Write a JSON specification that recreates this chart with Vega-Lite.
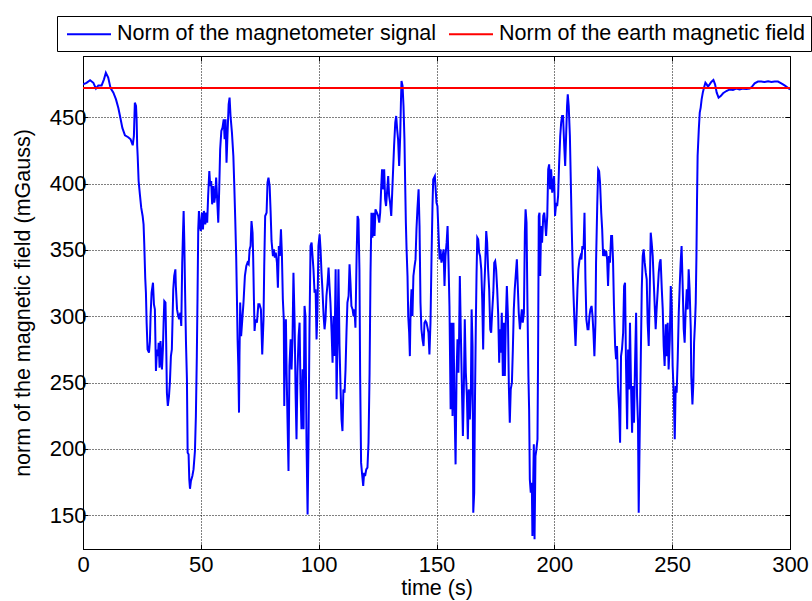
{
  "$schema": "https://vega.github.io/schema/vega-lite/v6.json",
  "width": 707,
  "height": 493,
  "autosize": "none",
  "padding": {"left": 83, "top": 56, "right": 22, "bottom": 52},
  "background": "white",
  "datasets": {
    "mag": [
{"t":0,"v":474.8},{"t":1.5,"v":476},{"t":3.0,"v":478},{"t":4.4,"v":476},{"t":5.5,"v":471.6},{"t":6.5,"v":474},{"t":7.9,"v":474},{"t":8.9,"v":478.6},{"t":9.7,"v":483.6},{"t":10.7,"v":480},{"t":11.7,"v":472},{"t":12.9,"v":468.6},{"t":14.0,"v":463.5},{"t":15.0,"v":457},{"t":15.7,"v":451},{"t":16.7,"v":442},{"t":17.8,"v":436.4},{"t":19.2,"v":435},{"t":20.2,"v":433.4},{"t":21.1,"v":428.9},{"t":21.6,"v":436},{"t":22.0,"v":461},{"t":22.5,"v":458.5},{"t":22.75,"v":448.5},{"t":23.0,"v":428.4},{"t":23.2,"v":420.8},{"t":23.6,"v":402},{"t":24.2,"v":390.7},{"t":24.7,"v":381.9},{"t":25.3,"v":375.6},{"t":25.7,"v":369.3},{"t":26.0,"v":354.2},{"t":26.4,"v":329},{"t":26.7,"v":317.8},{"t":27.0,"v":295.2},{"t":27.4,"v":275},{"t":28.0,"v":272.6},{"t":28.4,"v":281.4},{"t":28.7,"v":301.5},{"t":29.1,"v":317.8},{"t":29.7,"v":325.3},{"t":30.1,"v":309},{"t":30.5,"v":305.2},{"t":30.95,"v":258.8},{"t":31.4,"v":275},{"t":31.8,"v":270},{"t":32.1,"v":280.1},{"t":32.5,"v":261.3},{"t":32.9,"v":281.4},{"t":33.5,"v":260},{"t":33.9,"v":275},{"t":34.2,"v":295.2},{"t":34.5,"v":311.5},{"t":35.0,"v":310.3},{"t":35.3,"v":280},{"t":35.6,"v":242.4},{"t":36.0,"v":232.4},{"t":36.5,"v":240},{"t":36.9,"v":251.2},{"t":37.3,"v":270},{"t":37.7,"v":275},{"t":38.0,"v":297.7},{"t":38.3,"v":320.3},{"t":38.7,"v":330.4},{"t":39.2,"v":335.4},{"t":39.4,"v":322.8},{"t":39.9,"v":305.2},{"t":40.4,"v":300.2},{"t":40.8,"v":297.7},{"t":41.3,"v":302.7},{"t":41.7,"v":292.7},{"t":42.1,"v":340.4},{"t":42.4,"v":360.5},{"t":42.7,"v":379.4},{"t":43.0,"v":355.5},{"t":43.3,"v":320.3},{"t":43.7,"v":280.1},{"t":44.1,"v":252.5},{"t":44.4,"v":197.2},{"t":44.8,"v":196},{"t":45.1,"v":177.1},{"t":45.4,"v":170},{"t":45.8,"v":175.9},{"t":46.4,"v":179.6},{"t":46.9,"v":184.6},{"t":47.5,"v":198.5},{"t":47.9,"v":224.8},{"t":48.3,"v":270},{"t":48.6,"v":315.3},{"t":48.9,"v":365.5},{"t":49.2,"v":379.4},{"t":49.6,"v":368},{"t":50.0,"v":364.3},{"t":50.5,"v":378.1},{"t":50.9,"v":365.5},{"t":51.3,"v":379.4},{"t":51.9,"v":369.3},{"t":52.3,"v":378.1},{"t":52.7,"v":370.6},{"t":53.1,"v":390.7},{"t":53.6,"v":409.5},{"t":54.0,"v":398.2},{"t":54.4,"v":402},{"t":54.8,"v":384.4},{"t":55.3,"v":398.2},{"t":55.7,"v":385.6},{"t":56.1,"v":390.7},{"t":56.5,"v":404.5},{"t":57.0,"v":385.6},{"t":57.4,"v":370.6},{"t":57.8,"v":395.7},{"t":58.2,"v":425.9},{"t":58.7,"v":439.7},{"t":59.2,"v":442.2},{"t":59.7,"v":448.5},{"t":60.1,"v":433.4},{"t":60.5,"v":448.5},{"t":60.9,"v":415.8},{"t":61.3,"v":435.9},{"t":61.8,"v":459.8},{"t":62.2,"v":464.8},{"t":62.6,"v":451},{"t":63.2,"v":438.4},{"t":63.8,"v":420.8},{"t":64.2,"v":398.2},{"t":64.6,"v":373.1},{"t":65.0,"v":345.4},{"t":65.3,"v":315.3},{"t":65.6,"v":282.6},{"t":65.9,"v":262.5},{"t":66.2,"v":227.4},{"t":66.4,"v":270},{"t":66.7,"v":310.3},{"t":67.1,"v":285.1},{"t":67.6,"v":297.7},{"t":68.1,"v":310.3},{"t":68.7,"v":330.4},{"t":69.3,"v":337.9},{"t":69.8,"v":340.4},{"t":70.3,"v":339.2},{"t":70.7,"v":350.5},{"t":71.1,"v":353},{"t":71.5,"v":371.8},{"t":71.95,"v":363},{"t":72.2,"v":345.4},{"t":72.5,"v":315.3},{"t":72.8,"v":288.9},{"t":73.2,"v":297.7},{"t":73.8,"v":295.2},{"t":74.4,"v":309},{"t":74.9,"v":309},{"t":75.5,"v":305.2},{"t":76.05,"v":271.3},
{"t":76.6,"v":297.7},{"t":76.9,"v":337.9},{"t":77.3,"v":375.6},{"t":77.9,"v":378.1},{"t":78.3,"v":400.7},{"t":78.7,"v":404.5},{"t":79.2,"v":398.2},{"t":79.6,"v":379.4},{"t":80.0,"v":356.8},{"t":80.6,"v":345.4},{"t":81.0,"v":350.5},{"t":81.4,"v":344.2},{"t":81.8,"v":348},{"t":82.3,"v":340.4},{"t":82.7,"v":321.6},{"t":83.1,"v":353},{"t":83.5,"v":345.4},{"t":84.0,"v":365.5},{"t":84.4,"v":346.7},{"t":84.8,"v":312.8},{"t":85.2,"v":297.7},{"t":85.4,"v":232.4},{"t":85.7,"v":277.6},{"t":86.1,"v":297.7},{"t":86.4,"v":257.5},{"t":86.8,"v":219.8},{"t":87.2,"v":183.4},{"t":87.6,"v":262.5},{"t":88.1,"v":282.6},{"t":88.5,"v":260},{"t":88.9,"v":282.6},{"t":89.3,"v":332.9},{"t":89.8,"v":295.2},{"t":90.2,"v":242.4},{"t":90.6,"v":207.3},{"t":91.0,"v":257.5},{"t":91.5,"v":285.1},{"t":91.9,"v":295.2},{"t":92.3,"v":244.9},{"t":92.7,"v":214.8},{"t":93.2,"v":260},{"t":93.6,"v":214.8},{"t":94.0,"v":307.8},{"t":94.4,"v":300.2},{"t":94.85,"v":204.7},{"t":95.3,"v":150.7},{"t":95.7,"v":207.3},{"t":96.1,"v":290.2},{"t":96.55,"v":353},{"t":97.0,"v":355.5},{"t":97.4,"v":345.4},{"t":97.8,"v":335.4},{"t":98.25,"v":317.8},{"t":98.7,"v":320.3},{"t":99.1,"v":282.6},{"t":99.5,"v":305.2},{"t":99.9,"v":353},{"t":100.4,"v":361.8},{"t":100.8,"v":350.5},{"t":101.2,"v":332.9},{"t":101.6,"v":320.3},{"t":102.1,"v":300.2},{"t":102.5,"v":290.2},{"t":102.9,"v":297.7},{"t":103.3,"v":315.3},{"t":103.8,"v":325.3},{"t":104.2,"v":336.7},{"t":104.6,"v":322.8},{"t":105.0,"v":310.3},{"t":105.5,"v":287.6},{"t":105.9,"v":265},{"t":106.3,"v":300.2},{"t":106.7,"v":270},{"t":107.2,"v":335.4},{"t":107.6,"v":237.4},{"t":108.0,"v":282.6},{"t":108.4,"v":335.4},{"t":108.85,"v":277.6},{"t":109.3,"v":244.9},{"t":109.7,"v":222.3},{"t":110.1,"v":213.5},{"t":110.5,"v":244.9},{"t":111.0,"v":242.4},{"t":111.4,"v":260},{"t":111.8,"v":287.6},{"t":112.2,"v":310.3},{"t":112.7,"v":315.3},{"t":113.1,"v":339.2},{"t":113.5,"v":325.3},{"t":113.9,"v":307.8},{"t":114.4,"v":305.2},{"t":114.8,"v":300.2},{"t":115.2,"v":305.2},{"t":115.6,"v":291.4},{"t":116.1,"v":345.4},{"t":116.5,"v":375.6},{"t":116.9,"v":373.1},{"t":117.3,"v":335.4},{"t":117.6,"v":255},{"t":118.0,"v":189.7},{"t":118.5,"v":179.6},{"t":118.9,"v":172.1},{"t":119.3,"v":182.1},{"t":119.7,"v":179.6},{"t":120.2,"v":184.6},{"t":120.7,"v":185.9},{"t":121.15,"v":204.7},{"t":121.6,"v":257.5},{"t":122.0,"v":332.9},{"t":122.4,"v":378.1},{"t":122.8,"v":359.3},{"t":123.3,"v":378.1},{"t":123.7,"v":360.5},{"t":124.1,"v":380.6},{"t":124.7,"v":378.1},{"t":125.25,"v":375.6},{"t":125.7,"v":370.6},{"t":126.1,"v":378.1},{"t":126.5,"v":395.7},{"t":126.9,"v":410.8},{"t":127.4,"v":395.7},{"t":127.8,"v":410.8},{"t":128.2,"v":388.2},{"t":128.6,"v":383.1},{"t":129.1,"v":395.7},{"t":129.5,"v":405.7},{"t":129.9,"v":390.7},{"t":130.3,"v":385.6},{"t":130.8,"v":375.6},{"t":131.2,"v":393.2},{"t":131.6,"v":410.8},{"t":132.0,"v":428.4},{"t":132.5,"v":446},{"t":132.9,"v":451},{"t":133.3,"v":440.9},{"t":133.7,"v":433.4},{"t":134.15,"v":413.3},{"t":134.6,"v":435.9},{"t":134.9,"v":461},{"t":135.15,"v":477.4},{"t":135.6,"v":473.6},{"t":136.0,"v":458.5},{"t":136.4,"v":433.4},{"t":136.7,"v":400.7},{"t":137.0,"v":370.6},{"t":137.3,"v":350.5},{"t":137.7,"v":330.4},{"t":138.0,"v":300.2},{"t":138.4,"v":287.6},{"t":138.7,"v":270},{"t":139.0,"v":305.2},{"t":139.4,"v":320.3},{"t":139.8,"v":300.2},{"t":140.2,"v":330.4},{"t":140.7,"v":337.9},{"t":141.1,"v":342.9},{"t":141.5,"v":365.5},{"t":141.9,"v":380.6},{"t":142.4,"v":395.7},{"t":142.8,"v":368},{"t":143.2,"v":310.3},{"t":143.6,"v":290.2},{"t":144.05,"v":282.6},{"t":144.5,"v":277.6},{"t":144.9,"v":295.2},{"t":145.3,"v":296.5},{"t":145.75,"v":295.2},{"t":146.2,"v":291.4},{"t":146.6,"v":287.6},{"t":147.0,"v":271.3},{"t":147.45,"v":295.2},{"t":147.9,"v":345.4},{"t":148.3,"v":383.1},
{"t":148.6,"v":403.2},{"t":149.3,"v":405.7},{"t":150.0,"v":385.6},{"t":150.4,"v":383.1},{"t":150.9,"v":360.5},{"t":151.3,"v":342.9},{"t":151.7,"v":350.5},{"t":152.1,"v":340.4},{"t":152.6,"v":345.4},{"t":153.0,"v":350.5},{"t":153.4,"v":322.8},{"t":153.8,"v":345.4},{"t":154.3,"v":355.5},{"t":154.7,"v":368},{"t":155.1,"v":340.4},{"t":155.5,"v":307.8},{"t":156.0,"v":229.9},{"t":156.4,"v":295.2},{"t":156.8,"v":224.8},{"t":157.2,"v":295.2},{"t":157.65,"v":232.4},{"t":158.1,"v":188.4},{"t":158.5,"v":255},{"t":158.9,"v":282.6},{"t":159.3,"v":257.5},{"t":159.6,"v":285.1},{"t":159.9,"v":330.4},{"t":160.3,"v":290.2},{"t":160.8,"v":244.9},{"t":161.2,"v":209.8},{"t":161.6,"v":244.9},{"t":162.0,"v":297.7},{"t":162.45,"v":257.5},{"t":162.9,"v":240},{"t":163.3,"v":207.3},{"t":163.7,"v":244.9},{"t":164.15,"v":222.3},{"t":164.6,"v":244.9},{"t":164.9,"v":305.2},{"t":165.3,"v":277.6},{"t":165.6,"v":152},{"t":166.0,"v":167.1},{"t":166.3,"v":232.4},{"t":166.7,"v":295.2},{"t":167.0,"v":332.9},{"t":167.3,"v":359.3},{"t":167.7,"v":358},{"t":168.1,"v":348},{"t":168.5,"v":345.4},{"t":169.0,"v":335.4},{"t":169.4,"v":312.8},{"t":169.8,"v":275},{"t":170.2,"v":317.8},{"t":170.7,"v":340.4},{"t":171.1,"v":364.3},{"t":171.5,"v":355.5},{"t":171.9,"v":335.4},{"t":172.35,"v":320.3},{"t":172.8,"v":290.2},{"t":173.2,"v":287.6},{"t":173.6,"v":302.7},{"t":174.1,"v":317.8},{"t":174.5,"v":340.4},{"t":174.9,"v":341.7},{"t":175.3,"v":335.4},{"t":175.75,"v":320.3},{"t":176.2,"v":300.2},{"t":176.6,"v":265},{"t":176.9,"v":290.2},{"t":177.3,"v":272.6},{"t":177.7,"v":302.7},{"t":178.15,"v":255},{"t":178.6,"v":295.2},{"t":179.0,"v":255},{"t":179.4,"v":295.2},{"t":179.85,"v":322.8},{"t":180.3,"v":300.2},{"t":180.7,"v":247.5},{"t":181.1,"v":219.8},{"t":181.5,"v":244.9},{"t":182.0,"v":250},{"t":182.4,"v":275},{"t":182.8,"v":305.2},{"t":183.2,"v":320.3},{"t":183.7,"v":332.9},{"t":184.1,"v":342.9},{"t":184.5,"v":322.8},{"t":184.9,"v":302.7},{"t":185.4,"v":290.2},{"t":185.8,"v":297.7},{"t":186.2,"v":305.2},{"t":186.6,"v":295.2},{"t":187.1,"v":302.7},{"t":187.5,"v":363},{"t":187.8,"v":380.6},{"t":188.2,"v":370.6},{"t":188.6,"v":307.8},{"t":189.0,"v":255},{"t":189.3,"v":229.9},{"t":189.6,"v":177.1},{"t":190.0,"v":167.1},{"t":190.45,"v":174.6},{"t":190.7,"v":134.4},{"t":191.0,"v":169.6},{"t":191.3,"v":203.5},{"t":191.6,"v":131.9},{"t":192.0,"v":194.7},{"t":192.4,"v":199.7},{"t":192.85,"v":207.3},{"t":193.1,"v":270},{"t":193.4,"v":375.6},{"t":193.7,"v":378.1},{"t":194.0,"v":330.4},{"t":194.4,"v":368},{"t":194.8,"v":355.5},{"t":195.3,"v":375.6},{"t":195.7,"v":378.1},{"t":196.1,"v":370.6},{"t":196.5,"v":360.5},{"t":197.0,"v":375.6},{"t":197.4,"v":410.8},{"t":197.8,"v":414.5},{"t":198.2,"v":395.7},{"t":198.65,"v":410.8},{"t":199.1,"v":393.2},{"t":199.5,"v":400.7},{"t":199.9,"v":405.7},{"t":200.3,"v":375.6},{"t":200.8,"v":385.6},{"t":201.2,"v":383.1},{"t":201.6,"v":390.7},{"t":202.0,"v":413.3},{"t":202.5,"v":435.9},{"t":202.9,"v":446},{"t":203.3,"v":451},{"t":203.7,"v":451},{"t":204.2,"v":428.4},{"t":204.6,"v":413.3},{"t":205.0,"v":435.9},{"t":205.4,"v":458.5},{"t":205.7,"v":467.3},{"t":206.1,"v":458.5},{"t":206.6,"v":435.9},{"t":207.0,"v":400.7},{"t":207.4,"v":365.5},{"t":207.8,"v":335.4},{"t":208.1,"v":317.8},{"t":208.5,"v":297.7},{"t":209.0,"v":277.6},{"t":209.4,"v":297.7},{"t":209.8,"v":320.3},{"t":210.2,"v":335.4},{"t":210.7,"v":342.9},{"t":211.1,"v":345.4},{"t":211.5,"v":342.9},{"t":211.9,"v":353},{"t":212.4,"v":350.5},{"t":212.8,"v":378.1},{"t":213.2,"v":327.9},{"t":213.6,"v":297.7},{"t":214.1,"v":290.2},{"t":214.5,"v":290.2},{"t":214.9,"v":300.2},{"t":215.3,"v":305.2},{"t":215.8,"v":307.8},{"t":216.2,"v":300.2},{"t":216.6,"v":287.6},{"t":217.0,"v":270},{"t":217.45,"v":295.2},{"t":217.7,"v":340.4},{"t":218.2,"v":383.1},{"t":218.6,"v":410.8},{"t":219.0,"v":409.5},{"t":219.4,"v":400.7},{"t":219.9,"v":378.1},{"t":220.3,"v":365.5},{"t":220.7,"v":345.4},{"t":221.1,"v":350.5},{"t":221.55,"v":345.4},{"t":222.0,"v":349.2},{"t":222.4,"v":342.9},
{"t":222.8,"v":322.8},{"t":223.2,"v":345.4},{"t":223.6,"v":340.4},{"t":224.1,"v":360.5},{"t":224.5,"v":360.5},{"t":224.9,"v":342.9},{"t":225.3,"v":307.8},{"t":225.8,"v":277.6},{"t":226.2,"v":267.6},{"t":226.6,"v":277.6},{"t":227.0,"v":247.5},{"t":227.5,"v":229.9},{"t":227.9,"v":204.7},{"t":228.3,"v":270},{"t":228.7,"v":275},{"t":229.2,"v":287.6},{"t":229.6,"v":322.8},{"t":230.0,"v":325.3},{"t":230.4,"v":265},{"t":230.9,"v":214.8},{"t":231.3,"v":275},{"t":231.7,"v":244.9},{"t":232.1,"v":295.2},{"t":232.55,"v":247.5},{"t":233.0,"v":212.3},{"t":233.4,"v":247.5},{"t":233.8,"v":219.8},{"t":234.25,"v":265},{"t":234.7,"v":302.7},{"t":235.1,"v":240},{"t":235.5,"v":219.8},{"t":235.8,"v":152},{"t":236.2,"v":207.3},{"t":236.7,"v":270},{"t":237.1,"v":320.3},{"t":237.5,"v":345.4},{"t":237.9,"v":350.5},{"t":238.35,"v":340.4},{"t":238.8,"v":332.9},{"t":239.2,"v":327.9},{"t":239.6,"v":295.2},{"t":240.05,"v":277.6},{"t":240.5,"v":320.3},{"t":240.9,"v":363},{"t":241.3,"v":355.5},{"t":241.75,"v":345.4},{"t":242.2,"v":325.3},{"t":242.6,"v":307.8},{"t":243.0,"v":290.2},{"t":243.4,"v":305.2},{"t":243.9,"v":320.3},{"t":244.3,"v":332.9},{"t":244.7,"v":340.4},{"t":245.1,"v":342.9},{"t":245.6,"v":320.3},{"t":246.0,"v":305.2},{"t":246.4,"v":277.6},{"t":246.8,"v":262.5},{"t":247.3,"v":293.9},{"t":247.7,"v":270},{"t":248.1,"v":295.2},{"t":248.5,"v":260},{"t":249.0,"v":282.6},{"t":249.4,"v":322.8},{"t":249.8,"v":307.8},{"t":250.2,"v":262.5},{"t":250.65,"v":242.4},{"t":251.1,"v":207.3},{"t":251.5,"v":247.5},{"t":251.9,"v":242.4},{"t":252.35,"v":267.6},{"t":252.8,"v":302.7},{"t":253.2,"v":322.8},{"t":253.6,"v":340.4},{"t":254.0,"v":353},{"t":254.5,"v":320.3},{"t":254.9,"v":290.2},{"t":255.3,"v":280.1},{"t":255.7,"v":302.7},{"t":256.2,"v":320.3},{"t":256.6,"v":305.2},{"t":257.0,"v":335.4},{"t":257.4,"v":320.3},{"t":257.9,"v":290.2},{"t":258.1,"v":255},{"t":258.6,"v":233.6},{"t":259.0,"v":250},{"t":259.3,"v":280.1},{"t":259.7,"v":295.2},{"t":260.0,"v":310.3},{"t":260.3,"v":345.4},{"t":260.55,"v":388.2},{"t":260.8,"v":420.8},{"t":261.3,"v":440.9},{"t":261.7,"v":453.5},{"t":262.1,"v":457.3},{"t":262.5,"v":463.5},{"t":263.0,"v":468.6},{"t":263.5,"v":472.3},{"t":264.1,"v":476.1},{"t":264.65,"v":474.8},{"t":265.2,"v":473.1},{"t":265.9,"v":474.8},{"t":266.6,"v":476.6},{"t":267.5,"v":478.1},{"t":268.2,"v":474.8},{"t":268.9,"v":468.6},{"t":269.7,"v":464.8},{"t":270.6,"v":466},{"t":271.6,"v":468.1},{"t":273.0,"v":469.8},{"t":274.4,"v":471},{"t":275.8,"v":470.6},{"t":277.2,"v":471.6},{"t":278.6,"v":471},{"t":280.1,"v":471.6},{"t":281.5,"v":471.3},{"t":282.9,"v":471.6},{"t":283.9,"v":473.1},{"t":285.0,"v":475.6},{"t":286.4,"v":476.9},{"t":287.8,"v":476.9},{"t":289.3,"v":476.6},{"t":290.7,"v":477.1},{"t":292.1,"v":476.6},{"t":293.5,"v":476.9},{"t":294.9,"v":476.9},{"t":296.3,"v":475.6},{"t":297.7,"v":474.1},{"t":299.1,"v":472.3},{"t":300,"v":471}
    ],
    "earth": [{"t": 0, "v": 472}, {"t": 300, "v": 472}]
  },
  "layer": [
    {
      "data": {"name": "mag"},
      "mark": {"type": "line", "strokeWidth": 2, "clip": true},
      "encoding": {
        "x": {"field": "t", "type": "quantitative", "scale": {"domain": [0, 300], "nice": false, "zero": false},
              "axis": {"orient": "bottom", "values": [0, 50, 100, 150, 200, 250, 300], "title": "time (s)", "grid": true, "titlePadding": 2, "labelFlush": false, "labelPadding": 10}},
        "y": {"field": "v", "type": "quantitative", "scale": {"domain": [124.6, 496.2], "nice": false, "zero": false},
              "axis": {"orient": "left", "values": [150, 200, 250, 300, 350, 400, 450], "title": "norm of the magnetic field (mGauss)", "grid": true, "titlePadding": 15, "labelFlush": false, "labelPadding": 2}},
        "color": {"datum": "Norm of the magnetometer signal", "type": "nominal",
                  "scale": {"domain": ["Norm of the magnetometer signal", "Norm of the earth magnetic field"], "range": ["#0000ff", "#ff0000"]},
                  "legend": {"title": null, "orient": "none", "legendX": -26, "legendY": -40, "direction": "horizontal",
                             "strokeColor": "black", "fillColor": "white", "padding": 6, "symbolType": "M-2,0L2,0",
                             "symbolSize": 484, "symbolOffset": 14, "symbolStrokeWidth": 2, "symbolFillColor": "transparent",
                             "labelFont": "Liberation Sans", "labelFontSize": 21.5,
                             "labelColor": "black", "labelOffset": 16, "columnPadding": 8, "labelLimit": 0}}
      }
    },
    {
      "data": {"name": "earth"},
      "mark": {"type": "line", "strokeWidth": 2},
      "encoding": {
        "x": {"field": "t", "type": "quantitative",
              "axis": {"orient": "top", "values": [0, 50, 100, 150, 200, 250, 300], "labels": false, "title": null, "grid": false, "domain": false}},
        "y": {"field": "v", "type": "quantitative",
              "axis": {"orient": "right", "values": [150, 200, 250, 300, 350, 400, 450], "labels": false, "title": null, "grid": false, "domain": false}},
        "color": {"datum": "Norm of the earth magnetic field", "type": "nominal"}
      }
    }
  ],
  "resolve": {"axis": {"x": "independent", "y": "independent"}},
  "config": {
    "view": {"stroke": "black", "strokeWidth": 1},
    "font": "Liberation Sans",
    "axis": {"labelFont": "Liberation Sans", "labelFontSize": 22, "labelColor": "black",
             "titleFont": "Liberation Sans", "titleFontSize": 21.5, "titleFontWeight": "normal", "titleColor": "black",
             "domainColor": "black", "domainWidth": 1, "tickColor": "black", "tickSize": -5, "tickWidth": 1,
             "gridColor": "black", "gridDash": [1, 2], "gridOpacity": 1, "gridWidth": 1}
  }
}
